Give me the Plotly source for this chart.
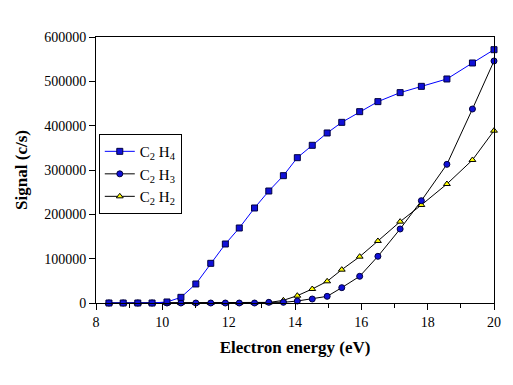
import plotly.graph_objects as go

energy = [8.39, 8.82, 9.26, 9.69, 10.14, 10.56, 11.01, 11.46, 11.90, 12.32, 12.78, 13.21,
          13.65, 14.07, 14.52, 14.97, 15.41, 15.95, 16.50, 17.17, 17.81, 18.58, 19.35, 20.0]
c2h4 = [0, 0, 0, 0, 2300, 12800, 42900, 89500, 133100, 169200, 214300, 252600,
        287200, 327800, 355700, 383500, 407500, 431600, 454200, 474500, 488700, 505300, 541400, 571400]
c2h3 = [0, 0, 0, 0, 0, 0, 0, 0, 0, 0, 0, 1500,
        1500, 4500, 9000, 15000, 34600, 60200, 105300, 166900, 230800, 312800, 437600, 545900]
c2h2 = [0, 0, 0, 0, 0, 0, 0, 0, 0, 0, 0, 1000,
        6000, 16500, 31600, 48900, 75200, 104500, 139900, 183500, 221100, 268400, 322600, 388700]

x_ticks = [8, 10, 12, 14, 16, 18, 20]
y_ticks = [0, 100000, 200000, 300000, 400000, 500000, 600000]

FONT = "Liberation Serif, Times New Roman, serif"

fig = go.Figure()
fig.add_trace(go.Scatter(
    x=energy, y=c2h2, name="C<sub>2</sub> H<sub>2</sub>", mode="lines+markers",
    line=dict(color="black", width=1),
    marker=dict(symbol="triangle-up", size=6, color="#ffff00", line=dict(color="black", width=1)),
    cliponaxis=False))
fig.add_trace(go.Scatter(
    x=energy, y=c2h3, name="C<sub>2</sub> H<sub>3</sub>", mode="lines+markers",
    line=dict(color="black", width=1),
    marker=dict(symbol="circle", size=6, color="#1010d8", line=dict(color="#000040", width=1)),
    cliponaxis=False))
fig.add_trace(go.Scatter(
    x=energy, y=c2h4, name="C<sub>2</sub> H<sub>4</sub>", mode="lines+markers",
    line=dict(color="#0000ff", width=1),
    marker=dict(symbol="square", size=6, color="#1010d8", line=dict(color="#000040", width=1)),
    cliponaxis=False))

fig.update_layout(
    width=505, height=377,
    margin=dict(l=83, r=18, t=29, b=82),
    paper_bgcolor="white", plot_bgcolor="white",
    font=dict(family=FONT, size=14, color="black"),
    showlegend=True,
    legend=dict(
        x=0.007, y=0.635, xanchor="left", yanchor="top",
        traceorder="reversed",
        bgcolor="white", bordercolor="black", borderwidth=1,
        font=dict(family=FONT, size=15, color="black"),
        tracegroupgap=0, itemwidth=30,
    ),
    xaxis=dict(
        range=[8, 20], tickvals=x_ticks, ticks="outside", ticklen=6, tickwidth=1,
        tickcolor="black", showline=True, linecolor="black", linewidth=1, mirror=True,
        showgrid=False, zeroline=False,
        minor=dict(dtick=1, tick0=8, ticks="outside", ticklen=4, tickcolor="black", showgrid=False),
        tickfont=dict(family=FONT, size=14),
        title=dict(text="<b>Electron energy (eV)</b>", font=dict(family=FONT, size=17), standoff=12),
    ),
    yaxis=dict(
        range=[0, 600000], tickvals=y_ticks, tickformat="d", ticks="outside", ticklen=6,
        tickwidth=1, tickcolor="black", showline=True, linecolor="black", linewidth=1,
        mirror=True, showgrid=False, zeroline=False,
        tickfont=dict(family=FONT, size=14),
        title=dict(text="<b>Signal (c/s)</b>", font=dict(family=FONT, size=17), standoff=12),
    ),
)

fig.write_html("out.html")
